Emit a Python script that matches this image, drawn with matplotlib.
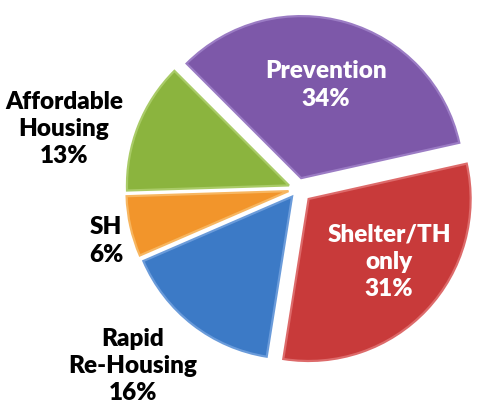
import matplotlib
matplotlib.use("Agg")
import matplotlib.pyplot as plt

categories = ["Prevention", "Shelter/TH\nonly", "Rapid\nRe-Housing", "SH", "Affordable\nHousing"]
values = [34, 31, 16, 6, 13]
colors = ["#7D58A9", "#C83A3A", "#3C7AC6", "#F2952B", "#8BB43E"]
edge_colors = ["#9B7CC4", "#DD6A6A", "#6A9BDA", "#F7B660", "#A9CB67"]
label_colors = ["white", "white", "black", "black", "black"]
explode = [0.07, 0.09, 0.06, 0.06, 0.06]

plt.rcParams['font.family'] = ['Lato', 'DejaVu Sans']

W, H = 480, 414
fig = plt.figure(figsize=(W / 100, H / 100), dpi=100)
R = 162.0
cx, cy = 298, 414 - 190
half = 1.2 * R
ax = fig.add_axes([(cx - half) / W, (cy - half) / H, 2 * half / W, 2 * half / H])
wedges, _ = ax.pie(values, explode=explode, startangle=135, counterclock=False,
                   colors=colors, radius=1.0,
                   wedgeprops=dict(linewidth=1.6))
for w, ec in zip(wedges, edge_colors):
    w.set_edgecolor(ec)
    w.set_clip_on(False)
ax.set_xlim(-1.2, 1.2)
ax.set_ylim(-1.2, 1.2)
ax.set_aspect('equal')
ax.axis('off')

# label positions (pixel coordinates, top-left origin)
label_pos = [(326, 85), (389, 262), (133, 366), (106, 241), (64, 129)]
for cat, v, (px, py), c in zip(categories, values, label_pos, label_colors):
    fig.text(px / W, 1 - py / H, f"{cat}\n{v}%", ha='center', va='center',
             fontsize=17.5, fontweight='heavy', color=c, linespacing=1.28)

fig.savefig("out.png", dpi=100)
